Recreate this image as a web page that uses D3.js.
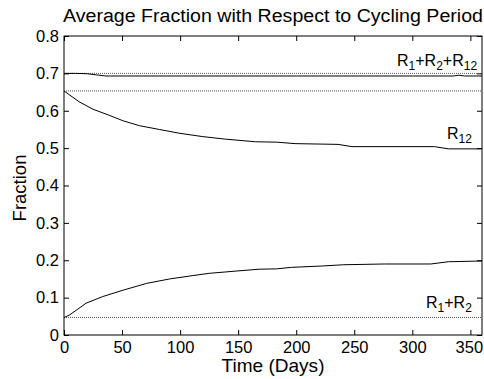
<!DOCTYPE html>
<html><head><meta charset="utf-8">
<script src="https://cdn.jsdelivr.net/npm/d3@7"></script>
<style>
body{margin:0;background:#fff;}
text{font-family:Arial,"Liberation Sans",sans-serif;fill:#000;}
</style></head>
<body><svg id="c" width="484" height="379"></svg>
<script>
const title = "Average Fraction with Respect to Cycling Period";
const xLabel = "Time (Days)";
const yLabel = "Fraction";
const xTicks = [0,50,100,150,200,250,300,350];
const yTicks = [0,0.1,0.2,0.3,0.4,0.5,0.6,0.7,0.8];

// solid curves (day, fraction)
const totalDays = [0,10,20,28,36,40,100,200,300,335,340,345,360];
const totalVals = [0.700,0.700,0.699,0.696,0.693,0.693,0.693,0.693,0.693,0.693,0.695,0.693,0.693];
const r12Days = [0,13,25,38,51,65,82,99,119,139,165,183,199,236,248,319,331,360];
const r12Vals = [0.653,0.624,0.604,0.589,0.573,0.560,0.550,0.540,0.531,0.524,0.517,0.516,0.512,0.510,0.504,0.504,0.498,0.498];
const r1r2Days = [0,5,19,33,51,71,91,111,125,148,168,183,196,222,241,276,316,331,360];
const r1r2Vals = [0.0465,0.054,0.085,0.1025,0.120,0.138,0.150,0.159,0.165,0.171,0.176,0.177,0.181,0.1846,0.188,0.190,0.190,0.196,0.198];

// dotted reference levels
const refLevels = [0.700,0.653,0.047];

const svg = d3.select("#c");
const m = {l:64, r:482, t:36, b:335};
const x = d3.scaleLinear().domain([0,360]).range([m.l, m.r]);
const y = d3.scaleLinear().domain([0,0.8]).range([m.b, m.t]);

svg.append("rect").attr("x",m.l).attr("y",m.t).attr("width",m.r-m.l).attr("height",m.b-m.t)
 .attr("fill","none").attr("stroke","#000").attr("stroke-width",1);

const tl = 5;
const xb = svg.append("g").attr("transform",`translate(0,${m.b})`)
 .call(d3.axisBottom(x).tickValues(xTicks).tickSizeInner(-tl).tickSizeOuter(0).tickPadding(6).tickFormat(d3.format("d")));
const xt = svg.append("g").attr("transform",`translate(0,${m.t})`)
 .call(d3.axisTop(x).tickValues(xTicks).tickSizeInner(-tl).tickSizeOuter(0).tickFormat(""));
const yl = svg.append("g").attr("transform",`translate(${m.l},0)`)
 .call(d3.axisLeft(y).tickValues(yTicks).tickSizeInner(-tl).tickSizeOuter(0).tickPadding(5)
   .tickFormat(d=> d===0 ? "0" : d3.format(".1f")(d)));
const yr = svg.append("g").attr("transform",`translate(${m.r},0)`)
 .call(d3.axisRight(y).tickValues(yTicks).tickSizeInner(-tl).tickSizeOuter(0).tickFormat(""));
[xb,xt,yl,yr].forEach(a=>{
  a.select(".domain").remove();
  a.selectAll("line").attr("stroke","#000");
  a.selectAll("text").attr("font-size",16.5).attr("font-family","Arial, 'Liberation Sans', sans-serif").attr("fill","#000");
});
// keep the last x tick label inside the picture
xb.selectAll(".tick text").filter(d=>d===350).attr("dx",-1.5);

svg.selectAll(".ref").data(refLevels).enter().append("line")
 .attr("x1",x(0)).attr("x2",x(360)).attr("y1",d=>y(d)).attr("y2",d=>y(d))
 .attr("stroke","#555").attr("stroke-width",1).attr("stroke-dasharray","1,1");

const line = d3.line().x(d=>x(d[0])).y(d=>y(d[1]));
[[totalDays,totalVals],[r12Days,r12Vals],[r1r2Days,r1r2Vals]].forEach(([ds,vs])=>{
  svg.append("path").datum(ds.map((d,i)=>[d,vs[i]])).attr("d",line)
   .attr("fill","none").attr("stroke","#000").attr("stroke-width",1);
});

svg.append("text").attr("x",(m.l+m.r)/2).attr("y",22).attr("text-anchor","middle")
 .attr("font-size",18).attr("textLength",420).attr("lengthAdjust","spacingAndGlyphs").text(title);
svg.append("text").attr("x",(m.l+m.r)/2).attr("y",372).attr("text-anchor","middle")
 .attr("font-size",18.5).attr("textLength",103).attr("lengthAdjust","spacingAndGlyphs").text(xLabel);
svg.append("text").attr("transform",`translate(26,188) rotate(-90)`).attr("text-anchor","middle")
 .attr("font-size",18.5).text(yLabel);

function label(xp, yp, parts){
  const t = svg.append("text").attr("x",xp).attr("y",yp).attr("font-size",16);
  parts.forEach(p=>{
    if(p.sub){ t.append("tspan").attr("baseline-shift","-30%").attr("font-size",12).text(p.t); }
    else { t.append("tspan").text(p.t); }
  });
  return t;
}
label(397, 66, [{t:"R"},{t:"1",sub:1},{t:"+R"},{t:"2",sub:1},{t:"+R"},{t:"12",sub:1}]);
label(447, 139, [{t:"R"},{t:"12",sub:1}]);
label(426, 308, [{t:"R"},{t:"1",sub:1},{t:"+R"},{t:"2",sub:1}]);
</script></body></html>
